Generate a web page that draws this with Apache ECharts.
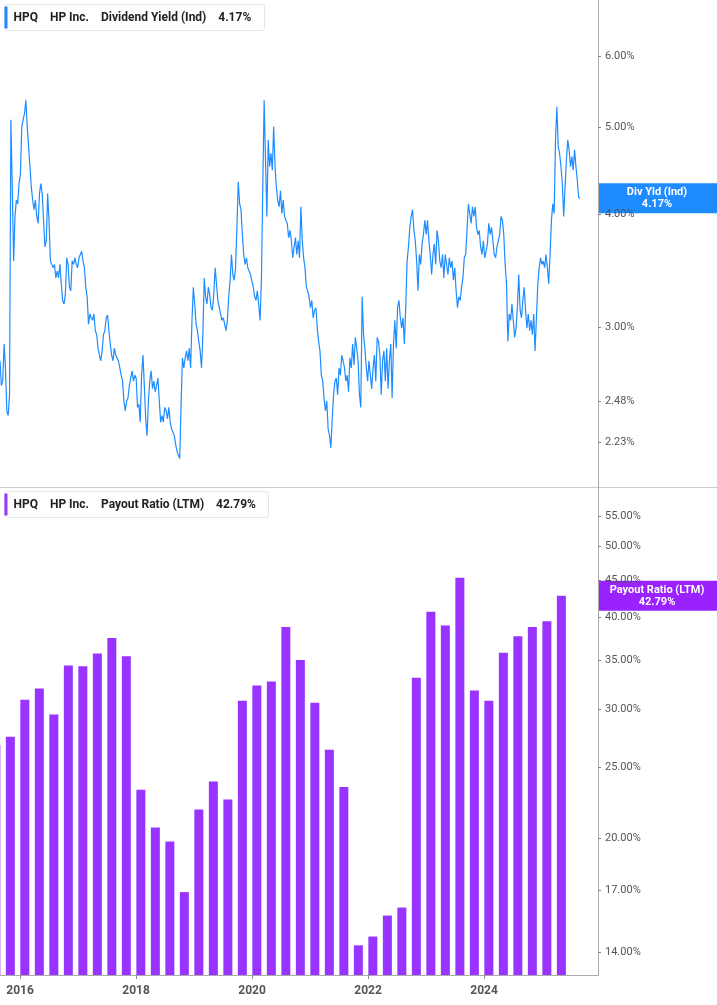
<!DOCTYPE html>
<html><head><meta charset="utf-8">
<script src="https://cdn.jsdelivr.net/npm/echarts@6/dist/echarts.min.js"></script>
<style>html,body{margin:0;padding:0;background:#fff}#c{width:717px;height:1005px}</style>
</head><body><div id="c"></div>
<script>
// Dividend yield (%), evenly spaced observations from lineStart to lineEnd (decimal years)
const lineStart = 2015.655, lineEnd = 2025.655;
const yieldValues = [2.75,2.58,2.61,2.87,2.70,2.42,2.39,2.52,5.10,4.29,3.55,3.98,4.15,4.11,4.33,4.44,5.01,5.10,5.18,5.36,5.01,4.76,4.52,4.29,4.15,4.05,4.15,3.98,3.91,4.22,4.33,4.22,3.94,3.68,3.74,4.22,3.94,3.55,3.52,3.49,3.52,3.40,3.46,3.40,3.52,3.35,3.21,3.18,3.26,3.58,3.52,3.32,3.29,3.55,3.52,3.58,3.52,3.49,3.58,3.61,3.64,3.55,3.49,3.32,3.24,3.02,3.10,3.07,3.05,3.10,2.97,2.94,2.84,2.79,2.75,2.82,2.94,2.97,3.07,3.09,2.97,2.87,2.79,2.75,2.84,2.79,2.77,2.75,2.70,2.65,2.61,2.48,2.42,2.48,2.50,2.58,2.63,2.68,2.61,2.65,2.63,2.44,2.46,2.35,2.65,2.79,2.58,2.37,2.27,2.48,2.61,2.68,2.56,2.61,2.54,2.58,2.63,2.48,2.35,2.39,2.35,2.44,2.42,2.37,2.44,2.35,2.31,2.29,2.27,2.22,2.18,2.16,2.14,2.46,2.77,2.70,2.77,2.82,2.75,2.84,2.70,3.05,3.32,3.18,3.02,2.97,2.89,2.82,2.70,2.94,3.40,3.24,3.18,3.32,3.26,3.15,3.13,3.26,3.49,3.35,3.21,3.21,3.10,3.05,3.07,3.02,2.97,3.05,3.24,3.38,3.61,3.43,3.38,3.49,3.87,4.35,4.11,4.05,3.80,3.61,3.52,3.58,3.49,3.49,3.43,3.43,3.32,3.24,3.21,3.29,3.18,3.05,3.38,4.29,5.36,4.60,3.98,4.84,4.52,4.68,4.48,5.01,4.52,4.29,4.15,4.08,4.25,4.01,4.15,3.98,3.94,3.91,3.77,3.84,3.74,3.58,3.68,3.77,3.61,3.74,3.58,4.08,3.74,3.58,3.49,3.32,3.29,3.24,3.15,3.21,3.07,3.13,3.15,2.99,2.89,2.82,2.65,2.61,2.50,2.42,2.48,2.31,2.27,2.20,2.37,2.52,2.61,2.63,2.52,2.70,2.65,2.79,2.75,2.70,2.61,2.65,2.54,2.77,2.70,2.87,2.72,2.92,2.84,2.75,2.52,2.44,3.24,2.94,2.84,2.70,2.61,2.75,2.65,2.56,2.70,2.79,2.61,2.92,2.89,2.79,2.52,2.75,2.82,2.61,2.84,2.56,2.75,2.87,2.50,2.87,3.05,2.84,3.15,3.21,3.07,2.99,3.07,2.87,3.15,3.55,3.68,3.87,3.98,4.05,3.84,3.74,3.55,3.29,3.61,3.52,3.71,3.80,3.94,3.80,3.94,3.74,3.61,3.43,3.61,3.71,3.52,3.84,3.74,3.55,3.49,3.61,3.40,3.61,3.52,3.43,3.58,3.49,3.55,3.38,3.49,3.29,3.15,3.24,3.21,3.32,3.40,3.58,3.61,3.84,4.11,4.01,3.91,4.08,3.98,4.08,3.87,3.80,3.84,3.68,3.61,3.74,3.58,3.64,3.71,3.91,3.80,3.87,3.74,3.61,3.58,3.68,3.74,3.80,3.98,3.94,3.80,3.52,3.35,2.89,3.10,3.05,3.18,3.05,2.92,2.99,3.15,3.43,3.13,3.07,3.21,3.32,3.13,2.99,3.10,2.97,3.05,2.94,3.10,2.82,3.07,3.35,3.49,3.58,3.52,3.55,3.49,3.61,3.49,3.35,3.61,3.94,4.11,4.01,4.84,5.27,4.76,4.68,4.52,4.33,3.98,4.29,4.60,4.84,4.72,4.52,4.64,4.48,4.72,4.52,4.37,4.18,4.17];
// Payout ratio (LTM, %) by fiscal quarter end
const barDates = ['2015-07','2015-10','2016-01','2016-04','2016-07','2016-10','2017-01','2017-04','2017-07','2017-10','2018-01','2018-04','2018-07','2018-10','2019-01','2019-04','2019-07','2019-10','2020-01','2020-04','2020-07','2020-10','2021-01','2021-04','2021-07','2021-10','2022-01','2022-04','2022-07','2022-10','2023-01','2023-04','2023-07','2023-10','2024-01','2024-04','2024-07','2024-10','2025-01','2025-04'];
const payoutValues = [26.8,27.5,30.9,32.0,29.5,34.4,34.3,35.7,37.5,35.4,23.3,20.7,19.8,16.9,21.9,23.9,22.6,30.8,32.3,32.7,38.8,35.0,30.6,26.4,23.5,14.3,14.7,15.7,16.1,33.1,40.7,39.0,45.3,31.8,30.8,35.8,37.7,38.8,39.5,42.79];
const yieldTicks = [1.98,2.23,2.48,3.00,4.00,5.00,6.00];
const payoutTicks = [14,17,20,25,30,35,40,45,50,55];
const yearTicks = [2016,2018,2020,2022,2024];

const step = (lineEnd-lineStart)/(yieldValues.length-1);
const lineData = yieldValues.map((v,i)=>[lineStart+i*step, Math.log(v)]);
const barData = barDates.map((d,i)=>{const p=d.split('-');return [+p[0]+(+p[1])/12, Math.log(payoutValues[i])];});

const FONT = 'Roboto, "Liberation Sans", sans-serif';
const xMin = 2015.655, xMax = 2025.965;
const chart = echarts.init(document.getElementById('c'));
const yAx = (gi, min, max, ticks) => ({
  type:'value', gridIndex:gi, position:'right', min:Math.log(min), max:Math.log(max), scale:true,
  splitLine:{show:false},
  axisLine:{show:true, lineStyle:{color:'#aaa', width:1}},
  axisTick:{show:true, length:3, lineStyle:{color:'#888'}, customValues:ticks.map(Math.log)},
  axisLabel:{show:true, color:'#555', fontSize:11, fontFamily:FONT, margin:7,
    customValues:ticks.map(Math.log), formatter:v=>Math.exp(v).toFixed(2)+'%'}
});
chart.setOption({
  animation:false,
  grid:[{left:0,right:119,top:0,height:487},{left:0,right:119,top:487,height:488}],
  xAxis:[
    {type:'value',gridIndex:0,min:xMin,max:xMax,show:false},
    {type:'value',gridIndex:1,min:xMin,max:xMax,splitLine:{show:false},
     axisLine:{show:true,lineStyle:{color:'#aaa'}},
     axisTick:{show:true,length:4,lineStyle:{color:'#888'},customValues:yearTicks},
     axisLabel:{color:'#555',fontSize:12,fontWeight:'bold',fontFamily:FONT,margin:10,customValues:yearTicks,formatter:v=>String(Math.round(v))}}
  ],
  yAxis:[yAx(0,1.99,6.93,yieldTicks), yAx(1,13.03,60.2,payoutTicks)],
  series:[
    {type:'line',xAxisIndex:0,yAxisIndex:0,data:lineData,showSymbol:false,
     lineStyle:{color:'#1e8cff',width:1.2},clip:true},
    {type:'bar',xAxisIndex:1,yAxisIndex:1,data:barData,barWidth:9,
     itemStyle:{color:'#9933ff'},clip:true}
  ]
});
const yPix = chart.convertToPixel({yAxisIndex:0}, Math.log(yieldValues[yieldValues.length-1]));
const pPix = chart.convertToPixel({yAxisIndex:1}, Math.log(payoutValues[payoutValues.length-1]));
const legend = (y, color, text, w) => ({type:'group', left:4, top:y, children:[
  {type:'rect', shape:{x:0,y:0,width:w,height:26,r:2}, style:{fill:'#fff',stroke:'#e6e6e6',lineWidth:1}},
  {type:'rect', shape:{x:0,y:2,width:3,height:22}, style:{fill:color}},
  {type:'text', x:9, y:7, style:{text:text, fill:'#222', font:'bold 12px '+FONT}}
]});
const badge = (cy, color, l1, l2) => ({type:'group', x:598, y:cy-15, children:[
  {type:'rect', shape:{x:0,y:0,width:119,height:30}, style:{fill:color}},
  {type:'text', x:59, y:3, style:{text:l1+'\n'+l2, fill:'#fff', font:'bold 11px '+FONT, align:'center', lineHeight:12}}
]});
chart.setOption({graphic:[
  {type:'line', shape:{x1:0,y1:487.5,x2:717,y2:487.5}, style:{stroke:'#ccc',lineWidth:1}},
  legend(4,'#1e8cff','HPQ    HP Inc.    Dividend Yield (Ind)    4.17%',260),
  legend(491,'#9933ff','HPQ    HP Inc.    Payout Ratio (LTM)    42.79%',264),
  badge(yPix,'#1e8cff','Div Yld (Ind)','4.17%'),
  badge(pPix,'#9a22ff','Payout Ratio (LTM)','42.79%')
]});
</script></body></html>
